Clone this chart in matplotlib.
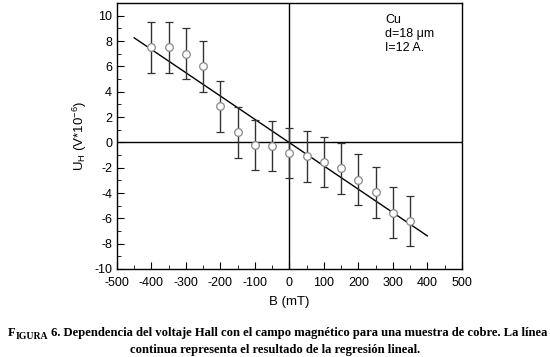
import numpy as np
import matplotlib.pyplot as plt
from matplotlib.ticker import MultipleLocator

# datos
B = [-400, -350, -300, -250, -200, -150, -100, -50, 0, 50, 100, 150, 200, 250, 300, 350]
U = [7.5, 7.5, 7.0, 6.0, 2.85, 0.8, -0.2, -0.3, -0.85, -1.1, -1.55, -2.05, -2.95, -3.95, -5.55, -6.2]
err = [2.0] * len(B)

# regresion lineal
m, c = np.polyfit(B, U, 1)
xr = np.array([-450, 400])

plt.rcParams['font.family'] = ['Liberation Sans', 'DejaVu Sans']
plt.rcParams['axes.unicode_minus'] = False
fig = plt.figure(figsize=(5.5, 3.57), dpi=100)
ax = fig.add_axes([0.2127, 0.2465, 0.627, 0.745])

ax.axhline(0, color='black', lw=1.0)
ax.axvline(0, color='black', lw=1.0)
ax.plot(xr, m * xr + c, color='black', lw=1.0)
ax.errorbar(B, U, yerr=err, fmt='o', mfc='white', mec='#888888', ms=5.5, mew=0.9,
            ecolor='#333333', elinewidth=1.0, capsize=3, capthick=1.0)

ax.set_xlim(-500, 500)
ax.set_ylim(-10, 11)
ax.xaxis.set_major_locator(MultipleLocator(100))
ax.xaxis.set_minor_locator(MultipleLocator(50))
ax.yaxis.set_major_locator(MultipleLocator(2))
ax.yaxis.set_minor_locator(MultipleLocator(1))
ax.tick_params(which='both', direction='in', top=False, right=False, labelsize=9)
ax.tick_params(which='major', length=5)
ax.tick_params(which='minor', length=3)
ax.tick_params(axis='x', which='major', pad=6)
for s in ax.spines.values():
    s.set_linewidth(1.0)

ax.set_xlabel('B (mT)', fontsize=9.5, labelpad=5)
ax.set_ylabel(r'U$_\mathregular{H}$ (V*10$^\mathregular{-6}$)', fontsize=9.5)

ax.text(0.778, 0.96, 'Cu\nd=18 \u03bcm\nI=12 A.', transform=ax.transAxes,
        ha='left', va='top', fontsize=9, linespacing=1.25)

# pie de figura
serif = ['Liberation Serif', 'DejaVu Serif']
t1 = fig.text(0.015, 0.058, 'F', fontsize=9.1, fontweight='bold', family=serif)
t2 = fig.text(0, 0, 'IGURA', fontsize=7, fontweight='bold', family=serif)
t3 = fig.text(0, 0, ' 6. Dependencia del voltaje Hall con el campo magn\u00e9tico para una muestra de cobre. La l\u00ednea',
              fontsize=9.1, fontweight='bold', family=serif)
fig.canvas.draw()
r = fig.canvas.get_renderer()
bb = t1.get_window_extent(r)
t2.set_position(fig.transFigure.inverted().transform((bb.x1, bb.y0)))
fig.canvas.draw()
bb = t2.get_window_extent(r)
p = fig.transFigure.inverted().transform((bb.x1, bb.y0))
t3.set_position((p[0], 0.058))
fig.text(0.5, 0.01, 'continua representa el resultado de la regresi\u00f3n lineal.',
         ha='center', fontsize=9.1, fontweight='bold', family=serif)

fig.savefig('out.png', dpi=100)
